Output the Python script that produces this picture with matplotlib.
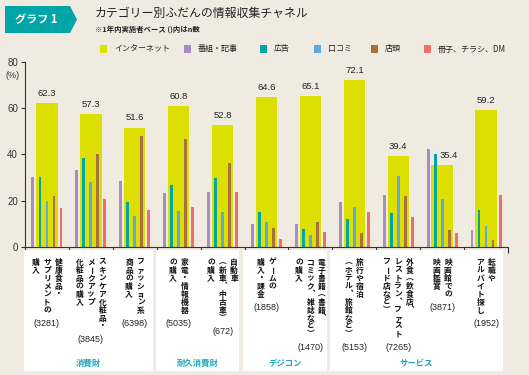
import matplotlib
matplotlib.use("Agg")
import matplotlib.pyplot as plt
from matplotlib.patches import Rectangle, Polygon
import numpy as np

plt.rcParams['font.family'] = ['Noto Sans CJK JP', 'DejaVu Sans']

W, H = 529, 375

# data (%), order of groups left to right
internet = [62.3, 57.3, 51.6, 60.8, 52.8, 64.6, 65.1, 72.1, 39.4, 35.4, 59.2]
bangumi = [30.2, 33.5, 28.4, 23.6, 24.0, 10.1, 10.0, 19.7, 22.4, 42.2, 7.6]
koukoku = [30.2, 38.5, 19.7, 26.7, 29.8, 15.3, 8.0, 12.4, 14.8, 40.1, 16.2]
kuchikomi = [20.0, 28.0, 13.7, 15.5, 15.3, 11.0, 5.5, 17.5, 30.7, 21.0, 9.0]
tentou = [22.0, 40.0, 48.0, 46.7, 36.4, 8.3, 11.0, 6.2, 22.3, 7.5, 3.0]
sasshi = [16.8, 20.9, 16.0, 17.2, 24.0, 3.5, 6.5, 15.3, 12.9, 6.2, 22.6]

# category labels, vertical columns from right to left
labels = [
    ["健康食品・", "サプリメントの", "購入"],
    ["スキンケア化粧品・", "メークアップ", "化粧品の購入"],
    ["ファッション系", "商品の購入"],
    ["家電・情報機器", "の購入"],
    ["自動車", "（新車、中古車）", "の購入"],
    ["ゲームの", "購入・課金"],
    ["電子書籍（書籍、", "コミック、雑誌など）", "の購入"],
    ["旅行や宿泊", "（ホテル、旅館など）"],
    ["外食（飲食店、", "レストラン、ファスト", "フード店など）"],
    ["映画館での", "映画鑑賞"],
    ["転職や", "アルバイト探し"],
]
n_counts = [3281, 3845, 6398, 5035, 672, 1858, 1470, 5153, 7265, 3871, 1952]

sections = ["消費財", "耐久消費財", "デジコン", "サービス"]
section_px = [(24, 153), (156, 239), (243, 327), (330, 503)]

series_names = ["インターネット", "番組・記事", "広告", "口コミ", "店頭", "冊子、チラシ、DM"]
colors = ["#dcdf00", "#a98bc6", "#00a6a6", "#5fa9e6", "#a8713f", "#ef6d6a"]

bg = "#efebe0"

fig = plt.figure(figsize=(W / 100, H / 100), dpi=100, facecolor=bg)


def fx(x):
    return x / W


def fy(y):
    return 1 - y / H


# axes placement (pixels)
ax_l, ax_r, ax_b, ax_t = 25, 508, 247.3, 61.7
ax = fig.add_axes([fx(ax_l), fy(ax_b), (ax_r - ax_l) / W, (ax_b - ax_t) / H])
ax.set_facecolor("none")

x = np.arange(len(internet))
ax.bar(x, internet, width=0.485, color=colors[0], zorder=1)
small = [bangumi, koukoku, kuchikomi, tentou, sasshi]
offs = [-0.32, -0.16, 0.0, 0.16, 0.32]
for s, o, c in zip(small, offs, colors[1:]):
    ax.bar(x + o, s, width=0.065, color=c, zorder=2)

label_dx = [0, 0, 0, 0, 0, 0, 0, 0, 0, 0.15, 0]
for i, v in enumerate(internet):
    ax.text(i + label_dx[i], v + 2.2, f"{v}", ha="center", va="bottom",
            fontsize=6.8, color="#222222", family="Liberation Sans")

ax.set_xlim(-0.5, len(internet) - 0.5)
ax.set_ylim(0, 80)
ax.set_yticks([0, 20, 40, 60, 80])
ax.set_yticklabels(["0", "20", "40", "60", "80"], fontsize=7, color="#333333",
                   family="Liberation Sans")
ax.set_xticks(np.arange(-0.5, len(internet) + 0.5, 1))
ax.set_xticklabels([])
ax.tick_params(axis="y", length=3, width=0.8, color="#333333", pad=2)
ax.tick_params(axis="x", length=4, width=0.8, color="#333333")
for sp in ["top", "right"]:
    ax.spines[sp].set_visible(False)
for sp in ["left", "bottom"]:
    ax.spines[sp].set_color("#333333")
    ax.spines[sp].set_linewidth(0.8)

fig.text(fx(13), fy(75), "(%)", ha="center", va="center", fontsize=6.5,
         color="#333333", family="Liberation Sans")

# white panels under the axis
for (a, b), name in zip(section_px, sections):
    fig.patches.append(Rectangle((fx(a), fy(371)), (b - a) / W, (371 - 250) / H,
                                 transform=fig.transFigure, facecolor="white",
                                 edgecolor="none", zorder=0))
    fig.text(fx((a + b) / 2), fy(363), name, ha="center", va="center",
             fontsize=6, color="#1fa7bd", fontweight="bold")

# vertical category labels
vert = {"、": "\ufe11", "（": "\ufe35", "）": "\ufe36"}
pitch, top, col_gap = 8.0, 262, 11.5
gw = (ax_r - ax_l) / len(internet)
for i, cols in enumerate(labels):
    cx = ax_l + (i + 0.5) * gw
    ncol = len(cols)
    for j, col in enumerate(cols):
        px = cx + ((ncol - 1) / 2 - j) * col_gap
        for k, ch in enumerate(col):
            rot = -90 if ch == "ー" else 0
            fig.text(fx(px), fy(top + k * pitch), vert.get(ch, ch), ha="center",
                     va="center", fontsize=5.6, rotation=rot, color="#111111",
                     fontweight="bold")
    maxlen = max(len(c) for c in cols)
    fig.text(fx(cx), fy(top - 4 + maxlen * pitch + 10), f"({n_counts[i]})",
             ha="center", va="center", fontsize=6.5, color="#222222",
             family="Liberation Sans")

# title badge
badge = Polygon([(fx(5), fy(6)), (fx(70), fy(6)), (fx(77), fy(19.5)),
                 (fx(70), fy(33)), (fx(5), fy(33))], closed=True,
                transform=fig.transFigure, facecolor="#00a5a8", edgecolor="none")
fig.patches.append(badge)
fig.text(fx(36), fy(19.5), "グラフ 1", ha="center", va="center", fontsize=8,
         color="white", fontweight="bold")
fig.text(fx(95), fy(13.5), "カテゴリー別ふだんの情報収集チャネル", ha="left",
         va="center", fontsize=8.6, color="#222222")
fig.text(fx(95), fy(29.5), "※1年内実施者ベース ()内はn数", ha="left", va="center",
         fontsize=5.3, color="#222222", fontweight="bold")

# legend
leg_sq = [100, 184, 260, 314, 371, 424]
for sx, name, c in zip(leg_sq, series_names, colors):
    fig.patches.append(Rectangle((fx(sx), fy(53)), 7 / W, 8 / H,
                                 transform=fig.transFigure, facecolor=c,
                                 edgecolor="none"))
    fig.text(fx(sx + 14), fy(49), name, ha="left", va="center", fontsize=5.8,
             color="#222222")

fig.savefig("out.png", dpi=100, facecolor=bg)
